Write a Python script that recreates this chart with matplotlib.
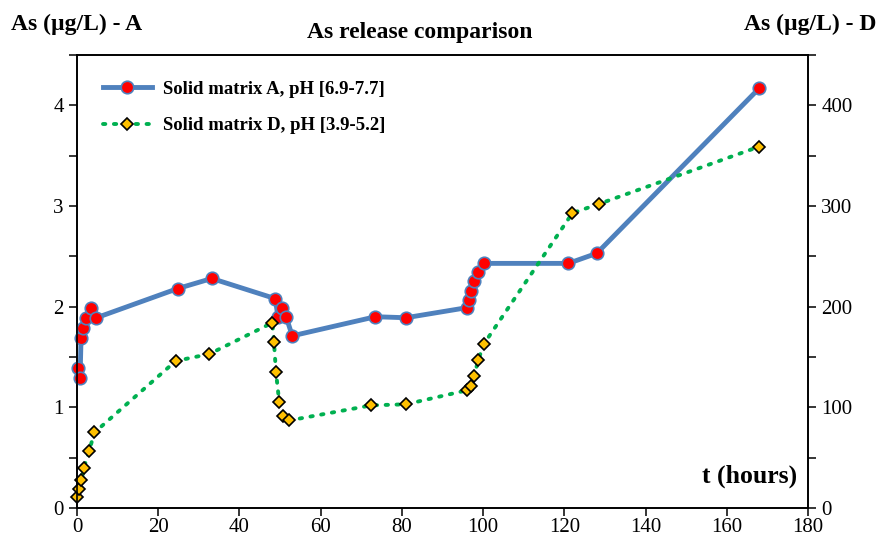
import matplotlib
matplotlib.use('Agg')
import matplotlib.pyplot as plt
from matplotlib.ticker import MultipleLocator

plt.rcParams['font.family'] = ['Liberation Serif', 'DejaVu Serif']

# Solid matrix A (left axis)
t_a = [0.3, 0.75, 1.0, 1.6, 2.2, 3.4, 4.8, 24.8, 33.2, 48.8, 49.5, 50.6, 51.5,
       53.0, 73.5, 81.0, 96.0, 96.5, 97.0, 97.7, 98.7, 100.2, 121.0, 128.0, 168.0]
as_a = [1.39, 1.29, 1.69, 1.79, 1.89, 1.99, 1.89, 2.18, 2.28, 2.08, 1.90, 1.99, 1.90,
        1.71, 1.90, 1.89, 1.99, 2.07, 2.16, 2.25, 2.34, 2.43, 2.43, 2.53, 4.17]

# Solid matrix D (right axis)
t_d = [0.0, 0.5, 1.1, 1.7, 3.0, 4.3, 24.3, 32.6, 48.1, 48.5, 49.0, 49.8, 50.8,
       52.3, 72.5, 81.0, 96.1, 97.0, 97.8, 98.8, 100.2, 122.0, 128.5, 168.0]
as_d = [11, 19, 28, 40, 57, 75, 146, 153, 184, 165, 135, 105, 91,
        87, 102, 103, 117, 121, 131, 147, 163, 293, 302, 359]

label_a = 'Solid matrix A, pH [6.9-7.7]'
label_d = 'Solid matrix D, pH [3.9-5.2]'

fig = plt.figure(figsize=(8.77, 5.34), dpi=100)
ax1 = fig.add_axes([0.0878, 0.0487, 0.8335, 0.8483])
ax2 = ax1.twinx()

l1, = ax1.plot(t_a, as_a, color='#4f81bd', lw=3.5, marker='o', ms=9,
               mfc='#ff0000', mec='#4f81bd', mew=1.2, label=label_a,
               zorder=3, clip_on=False)
l2, = ax2.plot(t_d, as_d, color='#00b050', lw=2.8, ls=(0, (0.6, 2.2)),
               dash_capstyle='round', marker='D', ms=6.5, mfc='#ffc000',
               mec='black', mew=1.2, label=label_d, clip_on=False)

ax1.set_xlim(0, 180)
ax1.set_ylim(0, 4.5)
ax2.set_ylim(0, 450)

ax1.xaxis.set_major_locator(MultipleLocator(20))
ax1.yaxis.set_major_locator(MultipleLocator(1))
ax1.yaxis.set_minor_locator(MultipleLocator(0.5))
ax2.yaxis.set_major_locator(MultipleLocator(100))
ax2.yaxis.set_minor_locator(MultipleLocator(50))

for ax in (ax1, ax2):
    ax.tick_params(which='both', direction='out', width=1.1, labelsize=15)
    ax.tick_params(which='major', length=6)
    ax.tick_params(which='minor', length=6)
    for s in ax.spines.values():
        s.set_linewidth(1.2)
        s.set_color('black')
ax1.tick_params(axis='x', pad=1)

ax1.text(0.985, 0.045, 't (hours)', transform=ax1.transAxes, ha='right',
         va='bottom', fontsize=18.5, fontweight='bold')

fig.text(0.012, 0.955, 'As (\u00b5g/L) - A', fontsize=17, fontweight='bold',
         ha='left', va='center')
fig.text(0.999, 0.955, 'As (\u00b5g/L) - D', fontsize=17, fontweight='bold',
         ha='right', va='center')
fig.text(0.479, 0.94, 'As release comparison', fontsize=17, fontweight='bold',
         ha='center', va='center')

ax2.legend(handles=[l1, l2], loc='upper left', bbox_to_anchor=(0.01, 0.985),
           frameon=False, prop={'weight': 'bold', 'size': 13.5},
           handlelength=2.6, handletextpad=0.6, labelspacing=1.05,
           borderaxespad=0.6)

fig.savefig('out.png', dpi=100)
